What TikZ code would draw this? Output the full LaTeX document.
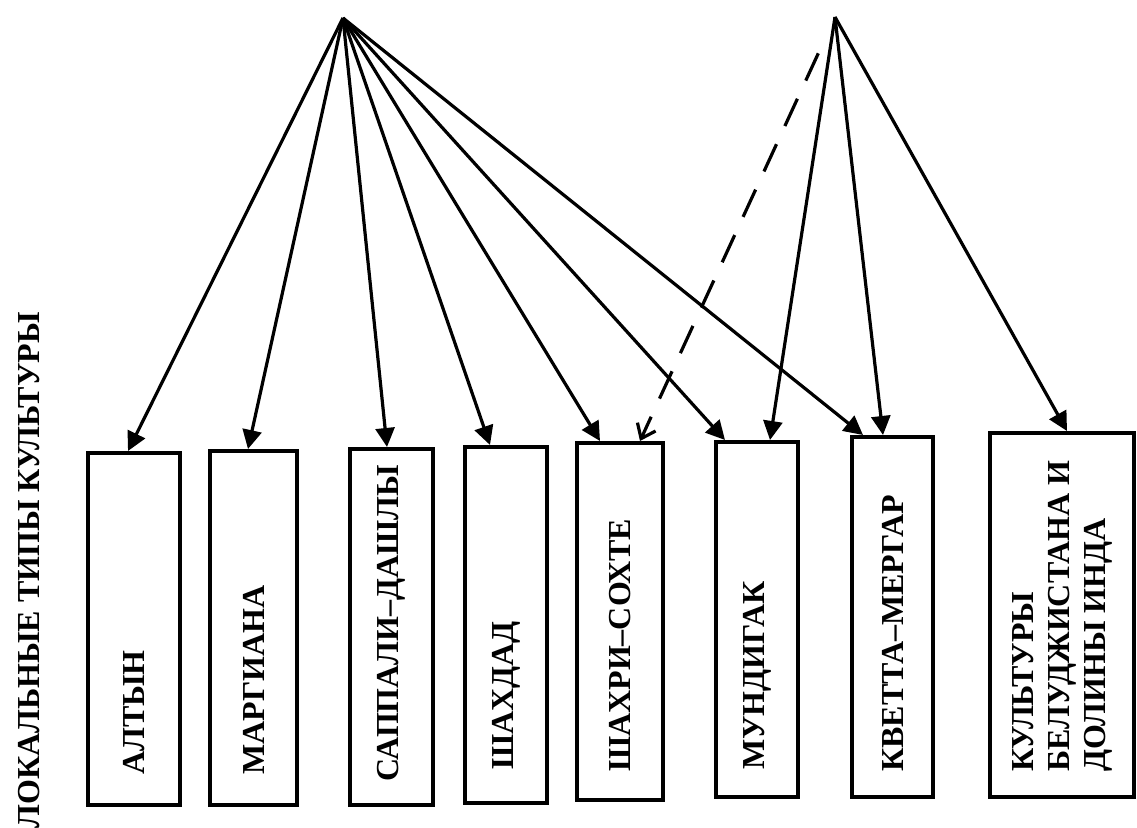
\documentclass[tikz,border=0pt]{standalone}
\usepackage{fontspec}
\setmainfont{Liberation Serif}
\usetikzlibrary{arrows.meta}
\tikzset{
  box/.style={draw, line width=4pt, rectangle, inner sep=0pt},
  lbl/.style={rotate=90, anchor=west, inner sep=0pt, font=\fontsize{32}{36}\selectfont\bfseries, align=left},
  arr/.style={line width=3.2pt, -{Triangle[length=19pt,width=19pt]}},
  darr/.style={line width=3.2pt, dash pattern=on 30pt off 20pt, -{Straight Barb[length=13pt,width=20pt]}},
}
\begin{document}
\begin{tikzpicture}[x=1pt,y=-1pt]
\fill[white] (0,0) rectangle (1137,827);
\useasboundingbox (0,0) rectangle (1137,827);
% title
\node[lbl, anchor=east, font=\fontsize{32}{36}\selectfont\bfseries] (title) at (29,312) {ЛОКАЛЬНЫЕ ТИПЫ КУЛЬТУРЫ};
% apexes
\coordinate (A) at (343,18);
\coordinate (B) at (835,17);
% boxes
\node[box, minimum width=92, minimum height=352] (alt) at (134,629) {};
\node[box, minimum width=87, minimum height=354] (marg) at (253.5,628) {};
\node[box, minimum width=83, minimum height=356] (sap) at (391.5,627) {};
\node[box, minimum width=82, minimum height=356] (shd) at (506,625) {};
\node[box, minimum width=86, minimum height=357] (shs) at (620,621.5) {};
\node[box, minimum width=82, minimum height=355] (mund) at (757,619.5) {};
\node[box, minimum width=81, minimum height=360] (kv) at (892.5,617) {};
\node[box, minimum width=144, minimum height=364] (kult) at (1062,615) {};
% labels
\node[lbl] (altT) at ([yshift=32pt]alt.south) {АЛТЫН};
\node[lbl] (margT) at ([yshift=32pt]marg.south) {МАРГИАНА};
\node[lbl] (sapT) at ([yshift=25pt]sap.south) {САППАЛИ–ДАШЛЫ};
\node[lbl] (shdT) at ([yshift=35pt]shd.south) {ШАХДАД};
\node[lbl] (shsT) at ([yshift=30pt]shs.south) {ШАХРИ–СОХТЕ};
\node[lbl] (mundT) at ([yshift=29pt]mund.south) {МУНДИГАК};
\node[lbl] (kvT) at ([yshift=27pt]kv.south) {КВЕТТА–МЕРГАР};
\node[lbl] (kultT) at ([yshift=27pt]kult.south) {КУЛЬТУРЫ\\БЕЛУДЖИСТАНА И\\ДОЛИНЫ ИНДА};
% arrows from left apex
\draw[arr] (A) -- ([xshift=-6pt]alt.north);
\draw[arr] (A) -- ([xshift=-5.5pt]marg.north);
\draw[arr] (A) -- ([xshift=-4.5pt]sap.north);
\draw[arr] (A) -- ([xshift=-16pt]shd.north);
\draw[arr] (A) -- ([xshift=-20pt]shs.north);
\draw[arr] (A) -- ([xshift=-32pt]mund.north);
\draw[arr] (A) -- ([xshift=-29.5pt]kv.north);
% arrows from right apex
\draw[darr, shorten <=40pt] (B) -- ([xshift=20pt]shs.north);
\draw[arr] (B) -- ([xshift=13pt]mund.north);
\draw[arr] (B) -- ([xshift=-9.5pt]kv.north);
\draw[arr] (B) -- ([xshift=5pt]kult.north);
\end{tikzpicture}
\end{document}
